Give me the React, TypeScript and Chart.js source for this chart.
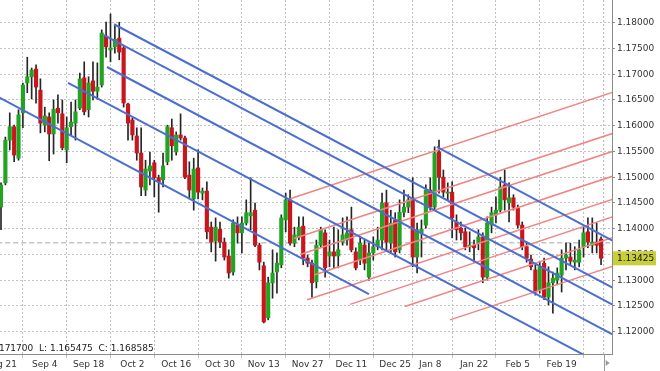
import React, { useEffect, useRef } from "react";
import { Chart, registerables } from "chart.js";

Chart.register(...registerables);

// Daily candles (bar index 0 = Aug 21)
const OPEN = [
  1.1442, 1.1489, 1.1572, 1.1598, 1.1537, 1.1625, 1.1683, 1.1695, 1.1710, 1.1669,
  1.1601, 1.1617, 1.1584, 1.1634, 1.1623, 1.1553, 1.1598, 1.1605, 1.1634, 1.1693,
  1.1631, 1.1687, 1.1667, 1.1679, 1.1774, 1.1747, 1.1753, 1.1770, 1.1751, 1.1642,
  1.1611, 1.1580, 1.1547, 1.1475, 1.1512, 1.1528, 1.1499, 1.1495, 1.1530, 1.1596,
  1.1549, 1.1582, 1.1576, 1.1504, 1.1458, 1.1518, 1.1469, 1.1473, 1.1403, 1.1376,
  1.1399, 1.1374, 1.1347, 1.1316, 1.1407, 1.1392, 1.1411, 1.1425, 1.1436, 1.1368,
  1.1328, 1.1227, 1.1295, 1.1316, 1.1330, 1.1417, 1.1456, 1.1372, 1.1384, 1.1405,
  1.1343, 1.1333, 1.1297, 1.1368, 1.1392, 1.1347, 1.1355, 1.1347, 1.1374, 1.1378,
  1.1398, 1.1355, 1.1339, 1.1368, 1.1306, 1.1353, 1.1365, 1.1378, 1.1450, 1.1372,
  1.1417, 1.1359, 1.1432, 1.1442, 1.1460, 1.1345, 1.1392, 1.1407, 1.1475, 1.1442,
  1.1549, 1.1500, 1.1469, 1.1471, 1.1413, 1.1401, 1.1394, 1.1365, 1.1368, 1.1372,
  1.1384, 1.1306, 1.1407, 1.1427, 1.1436, 1.1485, 1.1450, 1.1460, 1.1440, 1.1407,
  1.1365, 1.1341, 1.1320, 1.1281, 1.1333, 1.1267, 1.1295, 1.1300, 1.1310, 1.1343,
  1.1345, 1.1335, 1.1335, 1.1365, 1.1394, 1.1368, 1.1374, 1.1380,
];
const HIGH = [
  1.1489, 1.1578, 1.1625, 1.1601, 1.1631, 1.1683, 1.1733, 1.1712, 1.1718, 1.1691,
  1.1636, 1.1625, 1.1650, 1.1660, 1.1650, 1.1617, 1.1646, 1.1650, 1.1702, 1.1724,
  1.1695, 1.1724, 1.1722, 1.1786, 1.1801, 1.1817, 1.1794, 1.1801, 1.1755, 1.1644,
  1.1615, 1.1596, 1.1596, 1.1533, 1.1549, 1.1533, 1.1504, 1.1547, 1.1601, 1.1613,
  1.1588, 1.1623, 1.1580, 1.1530, 1.1537, 1.1553, 1.1479, 1.1491, 1.1413, 1.1421,
  1.1413, 1.1382, 1.1359, 1.1417, 1.1423, 1.1423, 1.1456, 1.1499, 1.1450, 1.1372,
  1.1335, 1.1306, 1.1359, 1.1353, 1.1427, 1.1469, 1.1475, 1.1403, 1.1423, 1.1423,
  1.1349, 1.1339, 1.1378, 1.1403, 1.1398, 1.1378, 1.1403, 1.1398, 1.1421, 1.1423,
  1.1442, 1.1363, 1.1384, 1.1378, 1.1372, 1.1384, 1.1403, 1.1469, 1.1475, 1.1436,
  1.1431, 1.1456, 1.1475, 1.1466, 1.1499, 1.1411, 1.1417, 1.1485, 1.1499, 1.1559,
  1.1572, 1.1514, 1.1489, 1.1491, 1.1427, 1.1413, 1.1401, 1.1394, 1.1378, 1.1398,
  1.1392, 1.1423, 1.1442, 1.1462, 1.1500, 1.1514, 1.1489, 1.1466, 1.1446, 1.1413,
  1.1374, 1.1349, 1.1330, 1.1335, 1.1343, 1.1326, 1.1316, 1.1324, 1.1359, 1.1372,
  1.1372, 1.1365, 1.1378, 1.1403, 1.1421, 1.1421, 1.1411, 1.1384,
];
const LOW = [
  1.1398, 1.1485, 1.1553, 1.1530, 1.1533, 1.1596, 1.1664, 1.1652, 1.1644, 1.1586,
  1.1588, 1.1532, 1.1545, 1.1605, 1.1553, 1.1528, 1.1582, 1.1572, 1.1631, 1.1621,
  1.1617, 1.1650, 1.1652, 1.1675, 1.1733, 1.1724, 1.1741, 1.1728, 1.1636, 1.1572,
  1.1572, 1.1533, 1.1464, 1.1464, 1.1485, 1.1462, 1.1432, 1.1481, 1.1524, 1.1533,
  1.1543, 1.1572, 1.1497, 1.1458, 1.1436, 1.1458, 1.1456, 1.1380, 1.1355, 1.1337,
  1.1363, 1.1339, 1.1304, 1.1310, 1.1372, 1.1353, 1.1407, 1.1398, 1.1365, 1.1320,
  1.1217, 1.1223, 1.1265, 1.1275, 1.1324, 1.1394, 1.1368, 1.1365, 1.1378, 1.1330,
  1.1326, 1.1267, 1.1285, 1.1363, 1.1306, 1.1326, 1.1324, 1.1324, 1.1368, 1.1368,
  1.1355, 1.1320, 1.1330, 1.1320, 1.1300, 1.1339, 1.1359, 1.1359, 1.1359, 1.1353,
  1.1345, 1.1353, 1.1423, 1.1431, 1.1326, 1.1314, 1.1345, 1.1401, 1.1436, 1.1436,
  1.1469, 1.1462, 1.1456, 1.1382, 1.1378, 1.1378, 1.1359, 1.1355, 1.1335, 1.1359,
  1.1295, 1.1300, 1.1392, 1.1411, 1.1432, 1.1436, 1.1413, 1.1436, 1.1401, 1.1359,
  1.1335, 1.1320, 1.1271, 1.1275, 1.1262, 1.1252, 1.1236, 1.1291, 1.1277, 1.1320,
  1.1330, 1.1320, 1.1326, 1.1345, 1.1363, 1.1353, 1.1353, 1.1330,
];
const CLOSE = [
  1.1485, 1.1572, 1.1598, 1.1543, 1.1621, 1.1679, 1.1695, 1.1708, 1.1675, 1.1605,
  1.1619, 1.1584, 1.1632, 1.1625, 1.1557, 1.1596, 1.1607, 1.1627, 1.1691, 1.1627,
  1.1683, 1.1667, 1.1675, 1.1780, 1.1753, 1.1751, 1.1768, 1.1743, 1.1644, 1.1605,
  1.1582, 1.1547, 1.1481, 1.1516, 1.1522, 1.1499, 1.1491, 1.1522, 1.1598, 1.1561,
  1.1582, 1.1576, 1.1500, 1.1475, 1.1516, 1.1471, 1.1473, 1.1394, 1.1374, 1.1403,
  1.1374, 1.1345, 1.1314, 1.1411, 1.1392, 1.1411, 1.1431, 1.1431, 1.1368, 1.1335,
  1.1219, 1.1295, 1.1314, 1.1333, 1.1421, 1.1456, 1.1372, 1.1388, 1.1403, 1.1343,
  1.1333, 1.1295, 1.1368, 1.1398, 1.1324, 1.1355, 1.1347, 1.1359, 1.1388, 1.1392,
  1.1359, 1.1324, 1.1372, 1.1333, 1.1353, 1.1365, 1.1378, 1.1450, 1.1374, 1.1411,
  1.1355, 1.1432, 1.1442, 1.1456, 1.1345, 1.1398, 1.1399, 1.1475, 1.1442, 1.1547,
  1.1500, 1.1471, 1.1471, 1.1421, 1.1398, 1.1392, 1.1365, 1.1368, 1.1363, 1.1384,
  1.1306, 1.1411, 1.1431, 1.1436, 1.1481, 1.1456, 1.1460, 1.1442, 1.1407, 1.1365,
  1.1343, 1.1326, 1.1277, 1.1326, 1.1267, 1.1295, 1.1304, 1.1314, 1.1343, 1.1349,
  1.1337, 1.1339, 1.1359, 1.1392, 1.1374, 1.1374, 1.1368, 1.13425,
];

const X_TICK_POS = [0, 10, 20, 30, 40, 50, 60, 70, 80, 90, 98, 108, 118, 128];
const X_TICK_LABELS = [
  "Aug 21", "Sep 4", "Sep 18", "Oct 2", "Oct 16", "Oct 30", "Nov 13",
  "Nov 27", "Dec 11", "Dec 25", "Jan 8", "Jan 22", "Feb 5", "Feb 19",
];
const Y_TICKS = [1.12, 1.125, 1.13, 1.135, 1.14, 1.145, 1.15, 1.155, 1.16, 1.165, 1.17, 1.175, 1.18];

// trend lines: [barStart, priceStart, barEnd, priceEnd]
const BLUE_LINES = [
  [-10, 1.1698, 84.0, 1.1273],
  [15.3, 1.1683, 140, 1.1124],
  [24.2, 1.1714, 140, 1.1193],
  [25.8, 1.1797, 140, 1.1284],
  [23.5, 1.1776, 140, 1.1251],
  [99.5, 1.1559, 140, 1.1375],
];
const RED_LINES = [
  [66.0, 1.1458, 140, 1.1666],
  [66.9, 1.1381, 140, 1.1586],
  [68.3, 1.1350, 140, 1.1551],
  [71.5, 1.1310, 140, 1.1503],
  [69.9, 1.1262, 140, 1.1458],
  [79.7, 1.1253, 140, 1.1424],
  [92.2, 1.1249, 140, 1.1384],
  [102.5, 1.1223, 140, 1.1328],
];
const BID_LEVEL = 1.13728;
const LAST_PRICE = 1.13425;
const SHIFT_BAR = 137.6;
const INFO_TEXT = "H: 1.171700  L: 1.165475  C: 1.168585";

const X_MIN = -9.36;
const X_MAX = 139.5;
const Y_MIN = 1.11567;
const Y_MAX = 1.18441;

const FONT = "DejaVu Sans";

export default function App() {
  const ref = useRef<HTMLCanvasElement | null>(null);

  useEffect(() => {
    const canvas = ref.current;
    if (!canvas) return;

    const bodies = OPEN.map((o, i) => ({ x: i, y: [o, CLOSE[i]] }));
    const wicks = OPEN.map((_, i) => ({ x: i, y: [LOW[i], HIGH[i]] }));
    const bodyColors = OPEN.map((o, i) => (CLOSE[i] >= o ? "#22a422" : "#c8161c"));

    const lineDs = (seg: number[], color: string, width: number) => ({
      type: "line" as const,
      data: [
        { x: seg[0], y: seg[1] },
        { x: seg[2], y: seg[3] },
      ],
      borderColor: color,
      borderWidth: width,
      pointRadius: 0,
      fill: false,
      clip: 0,
      order: 0,
    });

    const overlay = {
      id: "overlay",
      afterDraw(chart: any) {
        const ctx = chart.ctx;
        const y = chart.scales.y;
        const x = chart.scales.x;
        const area = chart.chartArea;
        ctx.save();
        // info text bottom-left
        ctx.font = `9px ${FONT}`;
        ctx.fillStyle = "#222";
        ctx.textBaseline = "middle";
        ctx.textAlign = "left";
        const pre = ctx.measureText("H: 1.171700  ").width;
        ctx.fillText(INFO_TEXT, 40 + 39 - pre, 349);
        // chart shift marker below axis
        const sx = x.getPixelForValue(SHIFT_BAR);
        ctx.strokeStyle = "#999";
        ctx.lineWidth = 1;
        ctx.beginPath();
        ctx.moveTo(Math.round(sx) + 0.5, area.bottom);
        ctx.lineTo(Math.round(sx) + 0.5, area.bottom + 17);
        ctx.stroke();
        ctx.fillStyle = "#999";
        ctx.beginPath();
        ctx.moveTo(sx + 2, 360);
        ctx.lineTo(sx + 6, 363);
        ctx.lineTo(sx + 2, 366);
        ctx.closePath();
        ctx.fill();
        // last price label
        const py = y.getPixelForValue(LAST_PRICE);
        ctx.fillStyle = "#c9cf38";
        ctx.fillRect(area.right + 1, py - 7, 43, 14);
        ctx.fillStyle = "#111";
        ctx.font = `9px ${FONT}`;
        ctx.fillText(LAST_PRICE.toFixed(5), area.right + 5, py + 0.5);
        ctx.restore();
      },
    };

    const chart = new Chart(canvas, {
      type: "bar",
      data: {
        datasets: [
          ...BLUE_LINES.map((s) => lineDs(s, "#4c6ed2", 2)),
          ...RED_LINES.map((s) => lineDs(s, "#ef8585", 1.5)),
          {
            type: "bar" as const,
            data: bodies as any,
            backgroundColor: bodyColors,
            barThickness: 3.5,
            minBarLength: 1,
            grouped: false,
            order: 1,
          },
          {
            type: "bar" as const,
            data: wicks as any,
            backgroundColor: "#262626",
            barThickness: 1,
            grouped: false,
            order: 2,
          },
          {
            type: "line" as const,
            data: [
              { x: -10, y: BID_LEVEL },
              { x: 140, y: BID_LEVEL },
            ],
            borderColor: "#c4c4c4",
            borderWidth: 1.5,
            borderDash: [5, 3],
            pointRadius: 0,
            clip: 0,
            order: 3,
          },
          {
            type: "line" as const,
            data: [
              { x: SHIFT_BAR, y: Y_MIN },
              { x: SHIFT_BAR, y: Y_MAX },
            ],
            borderColor: "#b4b4b4",
            borderWidth: 1,
            borderDash: [2, 2],
            pointRadius: 0,
            clip: 0,
            order: 4,
          },
        ] as any,
      },
      options: {
        responsive: false,
        animation: false,
        events: [],
        layout: { padding: 0 },
        plugins: { legend: { display: false }, tooltip: { enabled: false } },
        scales: {
          x: {
            type: "linear",
            position: "bottom",
            min: X_MIN,
            max: X_MAX,
            offset: false,
            grid: {
              color: "#c2c2c2",
              lineWidth: 1,
              tickLength: 4,
              tickColor: "#c2c2c2",
              tickBorderDash: [1, 0],
            } as any,
            border: { display: true, color: "#8a8a8a", width: 1, dash: [2, 2] },
            ticks: {
              autoSkip: false,
              maxRotation: 0,
              padding: 1,
              color: "#333",
              font: { family: FONT, size: 9 },
              callback: (v: any) => {
                const k = X_TICK_POS.indexOf(Number(v));
                return k >= 0 ? X_TICK_LABELS[k] : "";
              },
            },
            afterBuildTicks: (s: any) => {
              s.ticks = X_TICK_POS.map((v) => ({ value: v }));
            },
            afterFit: (s: any) => {
              s.height = 17;
              s.paddingLeft = 0;
              s.paddingRight = 0;
            },
          },
          y: {
            type: "linear",
            position: "right",
            min: Y_MIN,
            max: Y_MAX,
            grid: {
              color: "#c2c2c2",
              lineWidth: 1,
              tickLength: 3,
              tickColor: "#8a8a8a",
              tickBorderDash: [1, 0],
            } as any,
            border: { display: true, color: "#8a8a8a", width: 1, dash: [2, 2] },
            ticks: {
              padding: 2,
              color: "#333",
              font: { family: FONT, size: 9 },
              callback: (v: any) => Number(v).toFixed(5),
            },
            afterBuildTicks: (s: any) => {
              s.ticks = Y_TICKS.map((v) => ({ value: v }));
            },
            afterFit: (s: any) => {
              s.width = 48;
              s.paddingTop = 0;
              s.paddingBottom = 0;
            },
          },
        },
      } as any,
      plugins: [overlay],
    });

    return () => chart.destroy();
  }, []);

  return (
    <div style={{ position: "fixed", left: -40, top: 0, width: 700, height: 371, background: "#fff" }}>
      <canvas ref={ref} width={700} height={371} style={{ display: "block", width: 700, height: 371 }} />
    </div>
  );
}
